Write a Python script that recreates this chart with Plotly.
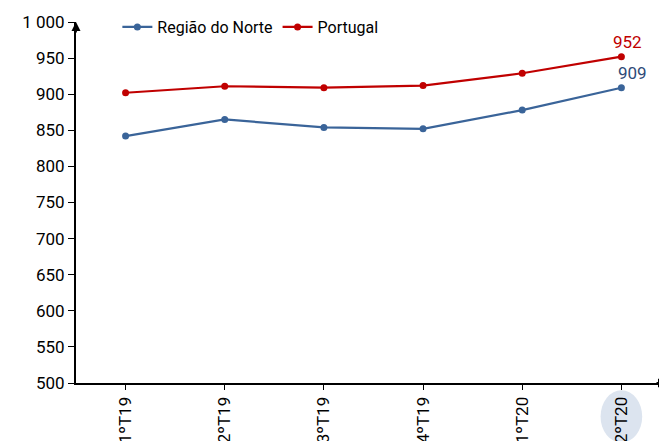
import plotly.graph_objects as go

categories = ["1ºT19", "2ºT19", "3ºT19", "4ºT19", "1ºT20", "2ºT20"]
norte = [842, 865, 854, 852, 878, 909]
portugal = [902, 911, 909, 912, 929, 952]

blue = "#3A6499"
red = "#C00000"
FONT = "Roboto"

fig = go.Figure()
fig.add_trace(go.Scatter(
    x=categories, y=norte, name="Região do Norte", mode="lines+markers",
    line=dict(color=blue, width=2.2), marker=dict(size=7, color=blue),
))
fig.add_trace(go.Scatter(
    x=categories, y=portugal, name="Portugal", mode="lines+markers",
    line=dict(color=red, width=2.2), marker=dict(size=7, color=red),
))

# data labels on last points
fig.add_annotation(x=categories[-1], y=portugal[-1], text=str(portugal[-1]), showarrow=False,
                   xshift=6, yshift=15, font=dict(color=red, size=17, family=FONT))
fig.add_annotation(x=categories[-1], y=norte[-1], text=str(norte[-1]), showarrow=False,
                   xshift=11, yshift=15, font=dict(color="#2E4A78", size=17, family=FONT))

# highlight ellipse around last tick label
fig.add_shape(type="circle", xref="x", yref="paper", x0=4.79, x1=5.21, y0=-0.02, y1=-0.165,
              fillcolor="#DCE4EF", line=dict(width=0), layer="below")

# axis arrows
fig.add_annotation(x=1.0, y=0, xref="paper", yref="paper", ax=-12, ay=0, text="",
                   showarrow=True, arrowhead=2, arrowsize=1, arrowwidth=1.8, arrowcolor="black")
fig.add_annotation(x=0, y=1.0, xref="paper", yref="paper", ax=0, ay=12, text="",
                   showarrow=True, arrowhead=2, arrowsize=1, arrowwidth=1.8, arrowcolor="black")

fig.update_layout(
    width=667, height=441,
    margin=dict(l=68, r=8, t=14, b=66, autoexpand=False),
    plot_bgcolor="white", paper_bgcolor="white",
    font=dict(family=FONT, size=16, color="black"),
    separators=", ",
    showlegend=True,
    legend=dict(orientation="h", x=0.07, y=0.986, xanchor="left", yanchor="middle",
                font=dict(size=16, family=FONT), bgcolor="rgba(0,0,0,0)",
                itemwidth=30, tracegroupgap=0),
)
fig.update_xaxes(
    range=[-0.5, 5.46], showline=True, linecolor="black", linewidth=2,
    ticks="outside", ticklen=5, tickcolor="black", tickangle=-90, automargin=False,
    showgrid=False, tickfont=dict(size=17, family=FONT, color="black"),
)
fig.update_yaxes(
    range=[500, 1000], dtick=50, showline=True, linecolor="black", linewidth=2,
    ticks="outside", ticklen=6, tickcolor="black", showgrid=False, zeroline=False,
    automargin=False, separatethousands=True,
    tickfont=dict(size=17, family=FONT, color="black"),
)

fig.write_html("out.html")
